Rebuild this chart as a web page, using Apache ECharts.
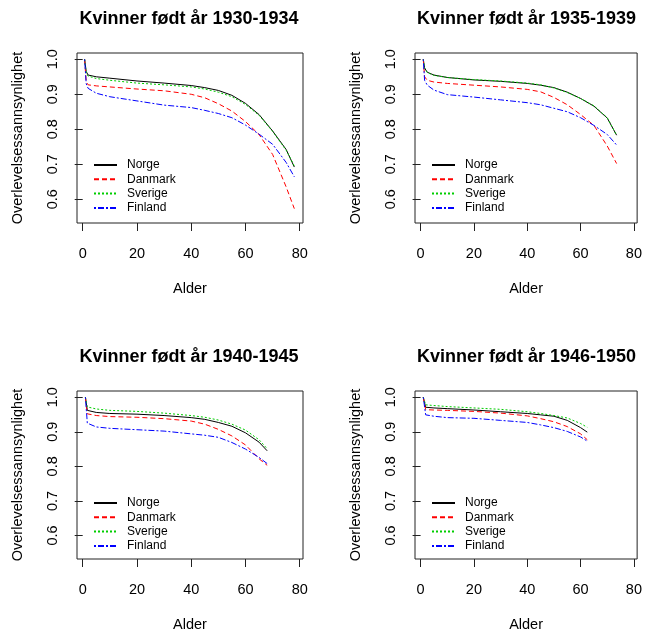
<!DOCTYPE html>
<html>
<head>
<meta charset="utf-8">
<script src="https://cdn.jsdelivr.net/npm/echarts@6/dist/echarts.min.js"></script>
<style>
html,body{margin:0;padding:0;background:#fff;}
#c{width:645px;height:640px;}
</style>
</head>
<body>
<div id="c"></div>
<script>
// ---- data ----
const countries = ['Norge', 'Danmark', 'Sverige', 'Finland'];
const panelTitles = ['Kvinner født år 1930-1934', 'Kvinner født år 1935-1939', 'Kvinner født år 1940-1945', 'Kvinner født år 1946-1950'];
const xTicks = [0, 20, 40, 60, 80];
const yTicks = [0.6, 0.7, 0.8, 0.9, 1.0];

const ages1 = [0.7, 1.3, 2, 5, 10, 20, 30, 40, 45, 50, 55, 60, 65, 70, 75, 78];
const norge1   = [1.0, 0.965, 0.955, 0.950, 0.946, 0.938, 0.932, 0.925, 0.919, 0.911, 0.897, 0.874, 0.842, 0.795, 0.742, 0.692];
const danmark1 = [1.0, 0.935, 0.927, 0.924, 0.921, 0.915, 0.910, 0.900, 0.890, 0.873, 0.852, 0.822, 0.785, 0.728, 0.635, 0.573];
const sverige1 = [1.0, 0.960, 0.952, 0.945, 0.940, 0.932, 0.927, 0.921, 0.915, 0.906, 0.893, 0.871, 0.840, 0.794, 0.740, 0.695];
const finland1 = [1.0, 0.930, 0.917, 0.903, 0.893, 0.881, 0.869, 0.862, 0.854, 0.845, 0.833, 0.812, 0.786, 0.757, 0.705, 0.664];

const ages2 = [1, 1.5, 2.5, 5, 10, 20, 30, 40, 45, 50, 55, 60, 65, 70, 73.5];
const norge2   = [1.0, 0.975, 0.963, 0.955, 0.948, 0.941, 0.937, 0.931, 0.926, 0.919, 0.906, 0.888, 0.866, 0.832, 0.783];
const danmark2 = [1.0, 0.950, 0.940, 0.935, 0.931, 0.926, 0.921, 0.914, 0.907, 0.891, 0.870, 0.842, 0.811, 0.752, 0.702];
const sverige2 = [1.0, 0.975, 0.962, 0.954, 0.948, 0.942, 0.938, 0.932, 0.927, 0.918, 0.905, 0.888, 0.867, 0.833, 0.783];
const finland2 = [1.0, 0.940, 0.926, 0.912, 0.899, 0.892, 0.884, 0.876, 0.870, 0.860, 0.850, 0.833, 0.811, 0.785, 0.755];

const ages3 = [1, 1.7, 5, 10, 20, 30, 40, 45, 50, 55, 60, 65, 68];
const norge3   = [1.0, 0.962, 0.956, 0.953, 0.951, 0.947, 0.941, 0.936, 0.927, 0.916, 0.897, 0.870, 0.845];
const danmark3 = [1.0, 0.952, 0.947, 0.944, 0.942, 0.938, 0.931, 0.922, 0.907, 0.888, 0.862, 0.822, 0.803];
const sverige3 = [1.0, 0.972, 0.966, 0.962, 0.959, 0.954, 0.947, 0.942, 0.934, 0.922, 0.905, 0.877, 0.851];
const finland3 = [1.0, 0.925, 0.914, 0.910, 0.906, 0.902, 0.894, 0.890, 0.884, 0.869, 0.850, 0.826, 0.808];

const ages4 = [1, 1.9, 5, 10, 20, 30, 40, 45, 50, 55, 60, 62.5];
const norge4   = [1.0, 0.971, 0.969, 0.967, 0.963, 0.958, 0.953, 0.949, 0.945, 0.933, 0.912, 0.899];
const danmark4 = [1.0, 0.964, 0.963, 0.962, 0.959, 0.954, 0.946, 0.938, 0.929, 0.915, 0.894, 0.877];
const sverige4 = [1.0, 0.978, 0.976, 0.973, 0.969, 0.965, 0.958, 0.953, 0.947, 0.940, 0.924, 0.913];
const finland4 = [1.0, 0.949, 0.945, 0.941, 0.939, 0.933, 0.927, 0.920, 0.912, 0.901, 0.885, 0.873];

const panels = [
  {ages: ages1, vals: [norge1, danmark1, sverige1, finland1]},
  {ages: ages2, vals: [norge2, danmark2, sverige2, finland2]},
  {ages: ages3, vals: [norge3, danmark3, sverige3, finland3]},
  {ages: ages4, vals: [norge4, danmark4, sverige4, finland4]}
];

// ---- styles / layout ----
const FONT = 'Liberation Sans, Arial, sans-serif';
const colors = ['#000000', '#FF0000', '#00CD00', '#0000FF'];
const dashes = ['solid', [5, 3], [2, 2], [2, 2, 6, 2]];
const grids = [
  {left: 77, top: 53, width: 226, height: 170},
  {left: 415, top: 53, width: 225, height: 170},
  {left: 77, top: 391, width: 226, height: 168},
  {left: 415, top: 391, width: 225, height: 168}
];

const option = {
  animation: false,
  backgroundColor: '#fff',
  title: [], grid: [], xAxis: [], yAxis: [], legend: [], series: []
};

grids.forEach((g, p) => {
  option.grid.push({left: g.left, top: g.top, width: g.width, height: g.height,
    show: true, borderColor: '#222', borderWidth: 1, backgroundColor: 'transparent'});
  option.title.push({text: panelTitles[p], left: g.left + g.width / 2 - 6, textAlign: 'center',
    top: g.top - 48,
    textStyle: {fontFamily: FONT, fontSize: 18, fontWeight: 'bold', color: '#000'}});
  option.xAxis.push({gridIndex: p, type: 'value', min: -2.1, max: 81.2,
    name: 'Alder', nameLocation: 'middle', nameGap: 58,
    nameTextStyle: {fontFamily: FONT, fontSize: 14.5, color: '#000'},
    axisLine: {show: false}, splitLine: {show: false},
    axisTick: {show: true, length: 8, customValues: xTicks, lineStyle: {color: '#222'}},
    axisLabel: {customValues: xTicks, margin: 23, fontFamily: FONT, fontSize: 14.5, color: '#000'}});
  option.yAxis.push({gridIndex: p, type: 'value', min: 0.532, max: 1.018,
    name: 'Overlevelsessannsynlighet', nameLocation: 'middle', nameGap: 52, nameRotate: 90,
    nameTextStyle: {fontFamily: FONT, fontSize: 14.5, color: '#000'},
    axisLine: {show: false}, splitLine: {show: false},
    axisTick: {show: true, length: 8, customValues: yTicks, lineStyle: {color: '#222'}},
    axisLabel: {customValues: yTicks, rotate: 90, margin: 17, fontFamily: FONT, fontSize: 14.5, color: '#000',
      formatter: v => v.toFixed(1)}});
  option.legend.push({orient: 'vertical', left: g.left + 16, top: g.top + 106,
    itemWidth: 23, itemHeight: 12, itemGap: 2.3, padding: 0,
    data: countries, selectedMode: false,
    itemStyle: {opacity: 0},
    textStyle: {fontFamily: FONT, fontSize: 12, color: '#000', padding: [0, 0, 0, 5]}});
  const pd = panels[p];
  countries.forEach((c, k) => {
    option.series.push({type: 'line', name: c, xAxisIndex: p, yAxisIndex: p,
      symbol: 'none', smooth: false, silent: true,
      data: pd.ages.map((a, i) => [a, pd.vals[k][i]]),
      lineStyle: {color: colors[k], width: 1, type: dashes[k]},
      itemStyle: {color: colors[k]}});
  });
});

const chart = echarts.init(document.getElementById('c'), null, {renderer: 'canvas'});
chart.setOption(option);
</script>
</body>
</html>
